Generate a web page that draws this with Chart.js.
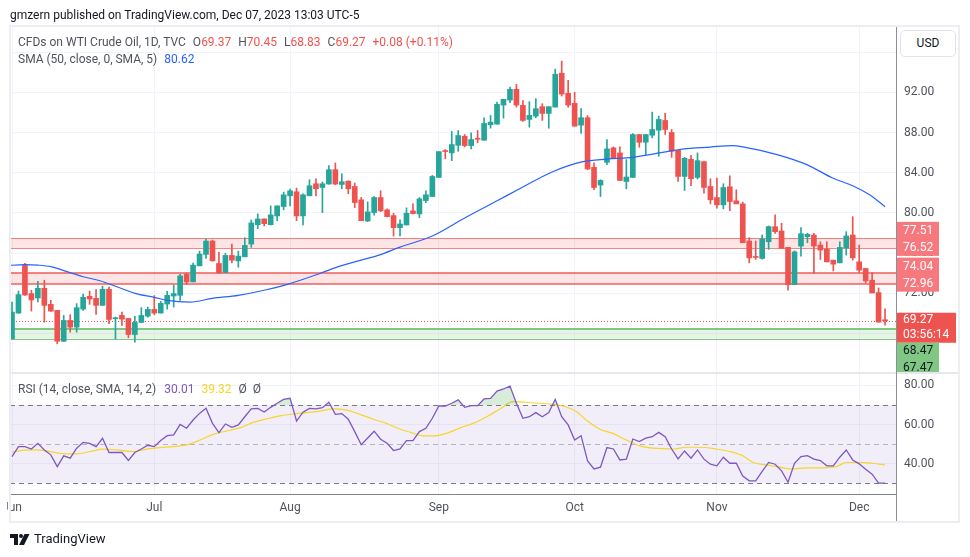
<!DOCTYPE html>
<html><head><meta charset="utf-8">
<script src="https://cdn.jsdelivr.net/npm/chart.js@4.4.0/dist/chart.umd.min.js"></script>
<style>
html,body{margin:0;padding:0;background:#fff;width:970px;height:557px;overflow:hidden;font-family:Roboto,"Open Sans",sans-serif;}
.t{position:absolute;white-space:nowrap;line-height:16px;}
.r{color:#ef5350;}
canvas{position:absolute;left:0;}
#c1{top:0;width:970px;height:373px;}
#c2{top:373px;width:970px;height:150px;}
#frame{position:absolute;left:9px;top:25px;width:951px;height:498px;border:2px solid #eceef2;box-sizing:border-box;pointer-events:none;}
</style></head><body>
<canvas id="c1" width="970" height="373"></canvas>
<canvas id="c2" width="970" height="150"></canvas>
<div style="position:absolute;left:0;top:494px;width:7px;height:30px;background:#fff"></div>
<div style="position:absolute;left:10px;top:372px;width:949px;height:2px;background:#e6e8ee"></div>
<div style="position:absolute;left:896px;top:26px;width:1px;height:496px;background:#8c8f99"></div>
<div id="frame"></div>
<div class="t" style="left:10px;top:7px;font-size:12px;color:#131722">gmzern published on TradingView.com, Dec 07, 2023 13:03 UTC-5</div>
<div class="t" style="left:18px;top:34px;font-size:12px;color:#50535e">CFDs on WTI Crude Oil, 1D, TVC<span style="margin-left:7px">O</span><span class="r">69.37</span><span style="margin-left:7px">H</span><span class="r">70.45</span><span style="margin-left:7px">L</span><span class="r">68.83</span><span style="margin-left:7px">C</span><span class="r">69.27</span><span class="r" style="margin-left:7px">+0.08 (+0.11%)</span></div>
<div class="t" style="left:18px;top:51px;font-size:12px;color:#50535e">SMA (50, close, 0, SMA, 5)<span style="margin-left:7px;color:#2962ff">80.62</span></div>
<div class="t" style="left:18px;top:381px;font-size:12px;color:#50535e"><span>RSI (14, close, SMA, 14, 2)</span><span style="margin-left:8px;color:#7e57c2">30.01</span><span style="margin-left:7px;color:#f5d428">39.32</span><span style="margin-left:7px;color:#50535e">Ø&nbsp; Ø</span></div>
<div style="position:absolute;left:900px;top:30px;width:56px;height:27px;border:1px solid #e0e3eb;border-radius:5px;box-sizing:border-box;background:#fff;font-size:12px;color:#131722;text-align:center;line-height:25px">USD</div>
<svg style="position:absolute;left:10px;top:533px" width="20" height="13" viewBox="0 0 20 13"><rect x="0" y="1" width="8" height="4" fill="#131722"/><rect x="4" y="1" width="4" height="11" fill="#131722"/><circle cx="11" cy="3" r="2" fill="#131722"/><polygon points="14.5,1 19.5,1 14,12 9,12" fill="#131722"/></svg>
<div class="t" style="left:34px;top:531px;font-size:13px;color:#131722">TradingView</div>
<script>
// ---- data (bar index 0 = Jun 1 2023, weekdays to Dec 7 2023) ----
const monthIdx = [0, 22, 43, 66, 87, 109, 131];
const monthLabels = ['Jun', 'Jul', 'Aug', 'Sep', 'Oct', 'Nov', 'Dec'];
const priceTicks = [68, 72, 76, 80, 84, 88, 92, 96];
const rsiTicks = [40, 60, 80];

const openP = [67.47,70.03,74.8,71.97,71.53,72.5,70.9,70.3,67.23,69.3,
68.63,70.43,71.7,71.5,70.8,72.4,69.47,69.8,69.5,67.9,
69.1,69.73,70.4,70.03,70.93,71.73,71.8,73.9,73.13,74.73,
75.87,77.2,74.97,74.07,75.77,75.23,75.63,76.9,78.83,79.4,
78.83,79.7,80.63,81.7,82.1,79.7,81.7,82.9,82.53,82.87,
84.3,82.83,83.17,82.63,81.3,79.2,80.03,81.53,80.3,79.73,
78.53,78.8,80.2,79.9,81.23,81.63,83.53,86.17,85.97,86.73,
87.63,86.7,87.4,87.23,88.77,88.83,90.73,91.23,92.3,90.7,
89.3,89.63,90.57,89.9,90.53,93.9,91.9,90.9,88.73,89.47,
84.53,82.77,85.03,86.47,85.97,83.13,83.53,87.8,87.03,87.73,
88.23,89.2,88.0,86.23,83.63,85.33,83.53,85.1,82.63,81.53,
80.8,82.6,81.2,80.9,77.2,75.63,75.47,77.13,78.63,78.2,
76.57,72.87,76.7,77.63,77.8,76.8,76.4,75.3,75.03,76.53,
77.8,75.13,74.47,73.3,72.07,69.37];
const highP = [71.13,72.23,74.97,72.3,73.2,73.3,71.3,70.3,69.8,69.87,
70.97,71.93,72.23,72.37,72.7,72.63,69.63,70.13,69.5,69.7,
70.57,70.63,71.77,71.2,72.2,72.8,73.9,74.03,75.0,76.2,
77.4,77.3,76.07,75.97,76.9,76.2,77.53,79.3,79.9,79.4,
80.7,80.7,82.07,82.37,82.47,81.9,83.3,83.4,83.07,84.7,
84.97,83.9,83.17,82.97,81.53,81.1,81.63,82.2,80.4,79.97,
79.3,80.5,80.9,81.53,82.2,83.73,86.1,86.3,88.1,88.2,
87.8,87.97,88.2,89.47,89.7,91.03,91.3,92.53,92.8,91.17,
91.07,91.37,90.87,90.57,94.3,95.1,93.2,92.0,90.37,89.7,
84.97,83.3,87.3,86.57,86.57,85.3,87.9,87.8,87.8,90.03,
89.63,89.9,88.3,86.23,85.53,85.73,85.97,85.1,83.4,83.47,
82.9,83.7,82.3,81.07,77.53,77.2,77.8,78.7,79.8,78.97,
76.57,76.23,78.53,77.97,77.97,77.13,77.13,75.3,77.13,78.13,
79.63,76.8,74.47,74.07,72.53,70.45];
const lowP = [67.47,70.0,71.8,70.23,71.13,69.13,70.2,66.97,67.2,68.13,
68.13,70.3,70.9,69.9,70.8,68.97,67.47,68.8,67.57,67.13,
69.07,69.63,69.87,70.03,70.43,70.63,71.3,72.87,73.13,74.73,
75.47,75.2,73.97,74.03,75.03,74.6,75.63,76.57,78.43,78.7,
78.8,79.23,80.3,80.7,79.23,78.8,81.7,81.7,80.03,82.87,
82.8,82.4,81.9,80.53,79.23,79.13,79.77,80.13,79.6,77.7,
77.7,78.8,79.9,79.53,81.03,81.63,83.53,85.4,85.2,86.13,
86.57,86.37,86.97,87.23,88.43,88.83,89.43,90.97,90.53,89.1,
88.53,89.47,89.2,88.43,90.53,91.63,90.53,88.63,87.9,84.3,
82.3,81.63,84.8,85.4,83.23,82.4,83.53,86.53,85.8,87.47,
85.63,87.8,85.53,83.13,82.23,82.7,83.37,81.97,80.9,80.47,
80.4,80.23,80.9,77.03,75.03,75.37,75.4,76.37,77.97,76.47,
72.3,72.87,75.7,77.03,73.97,75.37,75.13,74.23,75.03,75.8,
75.3,74.07,73.03,72.03,69.13,68.83];
const closeP = [70.13,71.87,71.83,71.33,72.5,70.8,70.23,67.23,69.3,68.63,
70.57,71.6,71.43,70.8,72.4,69.4,69.53,69.43,67.9,69.1,
69.8,70.4,70.03,71.0,71.8,71.97,73.73,73.13,74.8,75.9,
77.2,75.23,74.03,75.77,75.3,75.7,76.77,79.0,79.4,78.93,
79.8,80.7,81.8,82.2,79.7,81.8,82.7,82.4,82.9,84.3,
82.87,83.1,82.4,81.03,79.23,80.1,81.53,80.2,79.63,78.53,
78.9,79.97,79.93,81.4,81.8,83.63,86.1,86.1,86.8,87.7,
86.7,87.3,87.33,88.9,89.03,90.8,91.3,92.3,90.73,89.2,
89.7,90.37,89.9,90.57,93.8,91.83,90.73,88.63,89.47,84.37,
82.53,83.23,86.37,85.4,83.23,83.57,87.8,87.03,87.8,88.3,
89.3,88.3,86.13,83.63,85.43,83.4,85.2,82.53,81.3,80.8,
82.53,81.13,80.9,77.03,75.53,75.57,77.4,78.63,78.13,76.47,
72.87,76.13,77.93,77.87,76.7,76.3,75.13,74.9,76.57,77.7,
75.53,74.3,73.23,72.03,69.13,69.27];

// SMA(50) at these bar positions
const smaIdx = [-1,2,4,6,8.5,11,13.6,16,19,22,24,27.5,31,35,39,43,47.6,50.7,54,57,60,65,70,75,78.5,83.6,88.3,92,96,103.7,108,111.4,113,118.3,122.9,126.9,130,132.6,135];
const smaVal = [74.75,74.85,74.8,74.65,74.15,73.65,73.25,72.7,72.0,71.6,71.3,71.13,71.5,71.8,72.3,72.97,73.97,74.7,75.3,75.85,76.6,77.7,79.5,81.2,82.4,84.1,85.1,85.35,85.53,86.35,86.55,86.7,86.57,85.8,84.8,83.47,82.7,81.8,80.62];

// RSI(14), one value per bar
const rsiVal = [43.6,48.7,48.7,47.5,50.4,47.0,44.5,38.5,44.0,42.8,
47.9,50.9,50.4,48.7,53.0,45.7,45.7,45.7,41.6,45.7,
47.5,49.4,48.7,51.8,54.3,54.7,60.1,58.1,62.3,65.7,
68.3,60.6,55.9,60.3,58.6,59.8,64.0,68.0,68.3,66.4,
68.8,70.9,72.9,73.4,61.8,66.3,68.3,68.0,68.6,71.4,
65.2,65.6,62.7,56.4,49.7,53.1,56.6,52.5,50.4,46.7,
47.5,51.8,51.8,56.4,58.1,63.2,69.5,69.5,70.9,72.6,
68.8,69.7,69.7,73.1,73.4,77.1,78.2,79.7,70.9,63.2,
64.0,66.1,64.0,66.1,72.9,64.0,59.8,52.1,54.3,41.4,
37.3,38.2,48.2,47.5,41.9,42.3,52.6,51.3,53.0,53.8,
56.0,53.8,47.5,42.4,46.5,42.8,47.0,42.3,39.7,38.9,
43.3,40.2,40.2,33.7,31.2,31.2,36.0,40.6,39.7,36.3,
30.5,40.2,43.6,44.1,42.3,41.6,38.9,38.9,43.3,47.0,
41.9,39.9,37.1,34.6,30.0,30.01];

// RSI-based MA read at these bar positions
const rsiMaIdx = [0,1.2,3.3,5.4,7.4,10,12.1,14.1,16.2,18.8,20.8,22.9,24.9,27,29.1,31.1,33.2,35.3,37.3,39.4,41.4,43.5,45.6,47.6,49.7,51.8,53.8,55.9,57.9,60,62.1,63.6,65.2,67.2,69.3,71.3,73.4,75.4,77.5,79.5,81.6,83.7,85.2,87.3,88.8,90.9,92.9,95,97.1,99.1,102.2,104.3,106.3,108.9,111,113,114.6,116.6,118.7,120.3,122.8,126,127.5,129,131.1,133.1,135];
const rsiMaVal = [45.8,46.7,47.0,46.5,45.3,45.0,46.2,47.4,47.0,46.2,47.4,48.2,48.7,49.6,52.1,55.0,56.7,58.4,61.1,62.9,64.4,65.4,66.1,66.9,68.0,67.4,65.2,62.7,60.6,57.7,55.5,54.2,54.2,55.5,58.3,60.6,64.0,67.8,71.7,71.4,70.9,70.3,69.5,66.6,62.3,57.6,55.5,52.1,49.1,47.9,47.5,48.4,48.4,47.5,46.2,44.0,40.6,39.4,38.2,37.3,37.8,38.0,38.5,40.6,40.7,40.2,39.32];

// horizontal levels
const redZones = [[76.52, 77.51], [72.96, 74.04]];
const greenZone = [67.47, 68.47];
const lastPrice = 69.27;
const countdown = '03:56:14';
const rsiBand = [30, 70];
const rsiMid = 50;

// ---- rendering ----
Chart.defaults.font.family = 'Roboto, "Open Sans", sans-serif';
const UP = '#26a69a', DN = '#ef5350';
const colors = closeP.map((c, i) => c >= openP[i] ? UP : DN);

// page calibration of the axes (pixel of bar 0, bar spacing, price and RSI pixel scales)
const CAL = { x0: 12, dx: 6.467, pRef: 92, pRefY: 92.3, pPx: 10.05, rRef: 70, rRefY: 405, rPx: 1.955 };
const idxAtX = X => (X - CAL.x0) / CAL.dx;
const priceAtY = Y => CAL.pRef - (Y - CAL.pRefY) / CAL.pPx;
const rsiAtY = Y => CAL.rRef - (Y - CAL.rRefY) / CAL.rPx;

function hline(ctx, a, y, w, color, dash) {
  ctx.save();
  ctx.strokeStyle = color; ctx.lineWidth = w; ctx.setLineDash(dash || []);
  const yy = w % 2 ? Math.round(y) + 0.5 : Math.round(y);
  ctx.beginPath(); ctx.moveTo(a.left, yy); ctx.lineTo(a.right, yy); ctx.stroke();
  ctx.restore();
}

const mainOverlay = {
  id: 'mainOverlay',
  beforeDatasetsDraw(chart) {
    const { ctx, chartArea: a, scales: { y } } = chart;
    ctx.save();
    ctx.beginPath(); ctx.rect(a.left, a.top, a.right - a.left, a.bottom - a.top); ctx.clip();
    redZones.forEach((z, k) => {
      const yt = y.getPixelForValue(z[1]), yb = y.getPixelForValue(z[0]);
      ctx.fillStyle = 'rgba(239,83,80,0.15)';
      ctx.fillRect(a.left, yt, a.right - a.left, yb - yt);
      const w = k === 0 ? 1 : 2;
      hline(ctx, a, yt, w, 'rgba(239,83,80,0.7)');
      hline(ctx, a, yb, w, 'rgba(239,83,80,0.7)');
    });
    const gt = y.getPixelForValue(greenZone[1]), gb = y.getPixelForValue(greenZone[0]);
    ctx.fillStyle = 'rgba(129,199,132,0.2)';
    ctx.fillRect(a.left, gt, a.right - a.left, gb - gt);
    hline(ctx, a, gt, 2, '#81c784');
    hline(ctx, a, gb, 1, '#81c784');
    hline(ctx, a, y.getPixelForValue(lastPrice), 1, '#ef5350', [1, 2]);
    ctx.restore();
  },
  afterDraw(chart) {
    const { ctx, chartArea: a, scales: { y } } = chart;
    const x0 = a.right, tx = a.right + 7;
    ctx.save();
    ctx.font = '12px Roboto, "Open Sans", sans-serif';
    ctx.textBaseline = 'middle';
    ctx.textAlign = 'left';
    redZones.forEach(z => {
      const lo = y.getPixelForValue(z[0]);
      const hi = lo - 17;
      ctx.fillStyle = '#f7787d';
      ctx.fillRect(x0, hi - 9, 43, lo - hi + 17);
      ctx.fillStyle = '#fff';
      ctx.fillText(z[1].toFixed(2), tx, hi);
      ctx.fillText(z[0].toFixed(2), tx, lo);
    });
    const yp = y.getPixelForValue(lastPrice);
    ctx.fillStyle = '#ef5350';
    ctx.fillRect(x0, yp - 8, 60, 30);
    ctx.fillStyle = '#fff';
    ctx.fillText(lastPrice.toFixed(2), tx, yp - 0.5);
    ctx.fillText(countdown, tx, yp + 14.5);
    const gTop = yp + 22;
    ctx.fillStyle = '#81c784';
    ctx.fillRect(x0, gTop, 43, 40);
    ctx.fillStyle = '#131722';
    ctx.fillText(greenZone[1].toFixed(2), tx, gTop + 8.5);
    ctx.fillText(greenZone[0].toFixed(2), tx, gTop + 25);
    ctx.restore();
  }
};

const wickData = highP.map((h, i) => ({ x: i, y: [lowP[i], h] }));
const bodyData = openP.map((o, i) => ({ x: i, y: [Math.min(o, closeP[i]), Math.max(o, closeP[i])] }));
const smaData = smaIdx.map((v, i) => ({ x: v, y: smaVal[i] }));

const xFitH = h => s => { s.height = h; s.paddingLeft = 0; s.paddingRight = 0; s.paddingTop = 0; s.paddingBottom = 0; };
const yFitW = w => s => { s.width = w; s.paddingLeft = 0; s.paddingRight = 0; s.paddingTop = 0; s.paddingBottom = 0; };

const main = new Chart(document.getElementById('c1'), {
  type: 'bar',
  data: {
    datasets: [
      { type: 'line', data: smaData, borderColor: '#2962ff', borderWidth: 1.2, pointRadius: 0, cubicInterpolationMode: 'monotone', fill: false },
      { data: bodyData, backgroundColor: colors, barThickness: 5, grouped: false, borderWidth: 0, borderSkipped: false, minBarLength: 1 },
      { data: wickData, backgroundColor: colors, barThickness: 1, grouped: false, borderWidth: 0, borderSkipped: false }
    ]
  },
  options: {
    responsive: false, animation: false, maintainAspectRatio: false,
    layout: { padding: { left: 10, top: 26, right: 0, bottom: 0 }, autoPadding: false },
    plugins: { legend: { display: false }, title: { display: false }, tooltip: { enabled: false } },
    scales: {
      x: {
        type: 'linear', min: idxAtX(10), max: idxAtX(896), offset: false,
        afterFit: xFitH(0),
        afterBuildTicks: s => { s.ticks = monthIdx.map(v => ({ value: v })); },
        ticks: { display: false },
        grid: { color: '#f0f3fa', drawTicks: false, offset: false },
        border: { display: false }
      },
      y: {
        position: 'right', min: priceAtY(373), max: priceAtY(26),
        afterFit: yFitW(74),
        afterBuildTicks: s => { s.ticks = priceTicks.map(v => ({ value: v })); },
        ticks: { padding: 8, color: '#4f525c', font: { size: 12 }, callback: v => v >= 96 ? '' : v.toFixed(2) },
        grid: { color: '#f0f3fa', drawTicks: false },
        border: { display: false }
      }
    }
  },
  plugins: [mainOverlay]
});

const rsiOverlay = {
  id: 'rsiOverlay',
  beforeDatasetsDraw(chart) {
    const { ctx, chartArea: a, scales: { y } } = chart;
    const yt = y.getPixelForValue(rsiBand[1]), yb = y.getPixelForValue(rsiBand[0]);
    ctx.save();
    ctx.fillStyle = 'rgba(126,87,194,0.1)';
    ctx.fillRect(a.left, yt, a.right - a.left, yb - yt);
    hline(ctx, a, yt, 1, '#787b86', [5, 4]);
    hline(ctx, a, yb, 1, '#787b86', [5, 4]);
    hline(ctx, a, y.getPixelForValue(rsiMid), 1, 'rgba(120,123,134,0.5)', [5, 4]);
    ctx.restore();
  }
};

const RSI_TOP = 373;
const rsi = new Chart(document.getElementById('c2'), {
  type: 'line',
  data: {
    datasets: [
      { data: rsiVal.map((v, i) => ({ x: i, y: v })), borderColor: '#7e57c2', borderWidth: 1.3, pointRadius: 0, tension: 0,
        fill: { target: { value: rsiBand[1] }, above: 'rgba(76,175,80,0.22)', below: 'rgba(0,0,0,0)' } },
      { data: rsiMaIdx.map((v, i) => ({ x: v, y: rsiMaVal[i] })), borderColor: '#f7d52a', borderWidth: 1.2, pointRadius: 0, cubicInterpolationMode: 'monotone', fill: false }
    ]
  },
  options: {
    responsive: false, animation: false, maintainAspectRatio: false,
    layout: { padding: { left: 10, top: 0, right: 0, bottom: 0 }, autoPadding: false },
    plugins: { legend: { display: false }, title: { display: false }, tooltip: { enabled: false } },
    scales: {
      x: {
        type: 'linear', min: idxAtX(10), max: idxAtX(896), offset: false,
        afterFit: xFitH(29),
        afterBuildTicks: s => { s.ticks = monthIdx.map(v => ({ value: v })); },
        ticks: { autoSkip: false, maxRotation: 0, padding: 7, color: '#4f525c', font: { size: 12 },
          callback: v => monthLabels[monthIdx.indexOf(v)] },
        grid: { color: '#f0f3fa', drawTicks: false },
        border: { display: true, color: '#7f828c', width: 1 }
      },
      y: {
        position: 'right', min: rsiAtY(494), max: rsiAtY(373),
        afterFit: yFitW(74),
        afterBuildTicks: s => { s.ticks = rsiTicks.map(v => ({ value: v })); },
        ticks: { padding: 8, color: '#4f525c', font: { size: 12 }, callback: v => v.toFixed(2) },
        grid: { color: '#f0f3fa', drawTicks: false },
        border: { display: false }
      }
    }
  },
  plugins: [rsiOverlay]
});

// second pass: calibrate axis limits to the laid-out plot areas
function calibrate(chart, topOffset, yFn) {
  const a = chart.chartArea;
  chart.options.scales.x.min = idxAtX(a.left);
  chart.options.scales.x.max = idxAtX(a.right);
  chart.options.scales.y.min = yFn(a.bottom + topOffset);
  chart.options.scales.y.max = yFn(a.top + topOffset);
  chart.update('none');
}
calibrate(main, 0, priceAtY);
calibrate(rsi, RSI_TOP, rsiAtY);
</script>
</body></html>
